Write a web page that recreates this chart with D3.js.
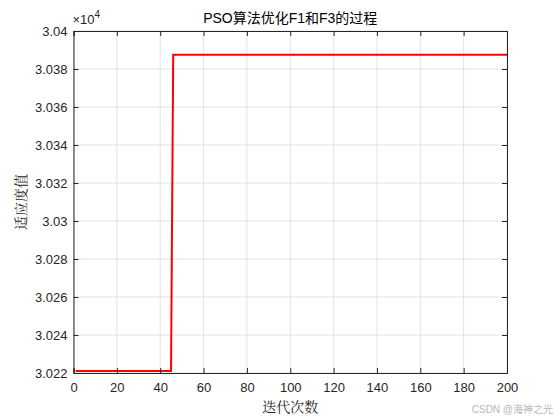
<!DOCTYPE html>
<html><head><meta charset="utf-8">
<script src="https://cdn.jsdelivr.net/npm/d3@7"></script>
<style>body{margin:0;background:#fff}svg{display:block}</style>
</head><body>
<svg id="c" width="560" height="420"></svg>
<script>
const iterations = [1, 45, 46, 200];
const fitness = [30221, 30221, 30387.5, 30387.5];
const xTicks = [0,20,40,60,80,100,120,140,160,180,200];
const yTicks = [3.022,3.024,3.026,3.028,3.03,3.032,3.034,3.036,3.038,3.04];
const title = "PSO算法优化F1和F3的过程";
const xLabel = "迭代次数";
const yLabel = "适应度值";

const svg = d3.select("#c");
const L=73.5, R=507, T=31, B=373;
const x = d3.scaleLinear().domain([0,200]).range([L,R]);
const y = d3.scaleLinear().domain([3.022,3.04]).range([B,T]);
const font = "'Liberation Sans', Arial, 'Noto Sans CJK SC', sans-serif";
const tc = "#262626";

svg.append("rect").attr("x",L).attr("y",T).attr("width",R-L).attr("height",B-T).attr("fill","#fff");
// grid
svg.append("g").selectAll("line").data(xTicks).join("line")
  .attr("x1",d=>x(d)).attr("x2",d=>x(d)).attr("y1",T).attr("y2",B)
  .attr("stroke","#e3e3e3").attr("stroke-width",1);
svg.append("g").selectAll("line").data(yTicks).join("line")
  .attr("y1",d=>y(d)).attr("y2",d=>y(d)).attr("x1",L).attr("x2",R)
  .attr("stroke","#e3e3e3").attr("stroke-width",1);

// line
const line = d3.line().x((d,i)=>x(iterations[i])).y((d,i)=>y(fitness[i]/1e4));
svg.append("path").datum(fitness).attr("d",line).attr("fill","none")
  .attr("stroke","#ff0000").attr("stroke-width",2);

// axes
const xa = svg.append("g").attr("transform",`translate(0,${B})`)
  .call(d3.axisBottom(x).tickValues(xTicks).tickSize(-5).tickPadding(10).tickFormat(d3.format("d")));
const xt = svg.append("g").attr("transform",`translate(0,${T})`)
  .call(d3.axisTop(x).tickValues(xTicks).tickSize(-5).tickFormat(""));
const ya = svg.append("g").attr("transform",`translate(${L},0)`)
  .call(d3.axisLeft(y).tickValues(yTicks).tickSize(-5).tickPadding(6).tickFormat(d=>String(+d.toFixed(3))));
const yr = svg.append("g").attr("transform",`translate(${R},0)`)
  .call(d3.axisRight(y).tickValues(yTicks).tickSize(-5).tickFormat(""));
[xa,xt,ya,yr].forEach(g=>{
  g.selectAll("path").attr("stroke","#262626").attr("stroke-width",1);
  g.selectAll("line").attr("stroke","#262626");
  g.selectAll("text").attr("fill",tc).style("font-family",font).style("font-size","13px");
});

// exponent
const ex = svg.append("text").attr("x",L-1).attr("y",T-7).attr("fill",tc)
  .style("font-family",font).style("font-size","13px");
ex.append("tspan").text("×10");
ex.append("tspan").attr("dy",-6).style("font-size","10px").text("4");

// title
svg.append("text").attr("x",(L+R)/2).attr("y",T-8).attr("text-anchor","middle")
  .attr("fill","#000").style("font-family",font).style("font-size","14px").text(title);
// x label
svg.append("text").attr("x",(L+R)/2).attr("y",412).attr("text-anchor","middle")
  .attr("fill",tc).style("font-family","'Noto Serif CJK SC','Noto Sans CJK SC',serif").style("font-size","14px").text(xLabel);
// y label
svg.append("text").attr("transform",`translate(26,${(T+B)/2}) rotate(-90)`).attr("text-anchor","middle")
  .attr("fill",tc).style("font-family","'Noto Serif CJK SC','Noto Sans CJK SC',serif").style("font-size","14px").text(yLabel);
// watermark
svg.append("text").attr("x",553).attr("y",413).attr("text-anchor","end")
  .attr("fill","#b8b8b8").style("font-family",font).style("font-size","10px").text("CSDN @海神之光");
</script>
</body></html>
